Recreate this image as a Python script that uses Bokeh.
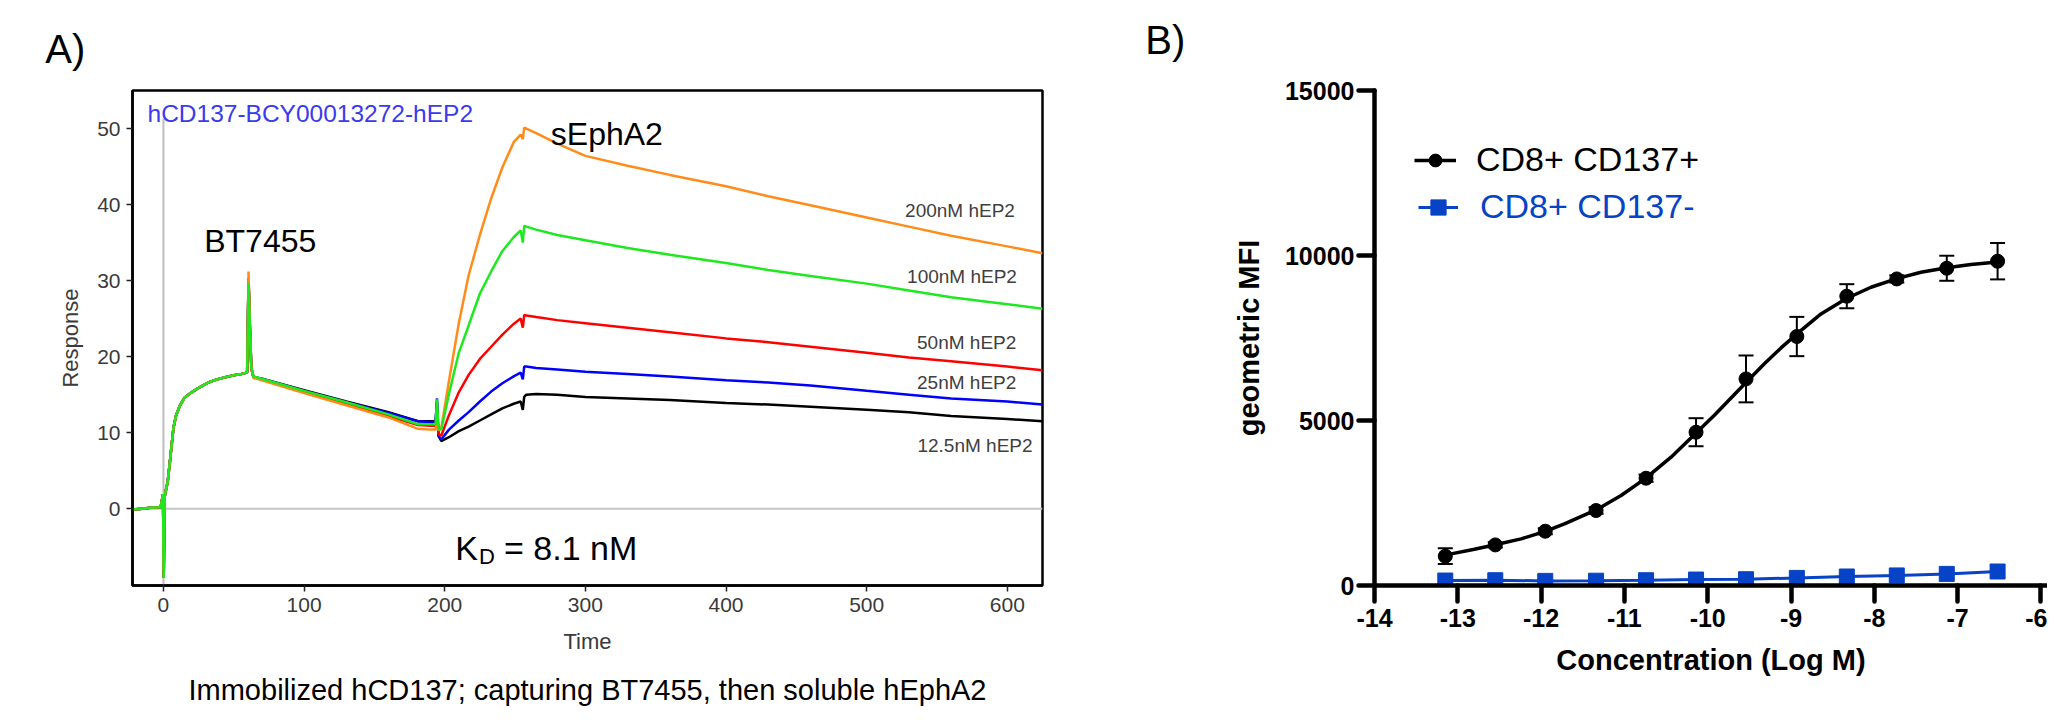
from bokeh.plotting import figure
from bokeh.models import (Range1d, FixedTicker, Label, Legend, LegendItem, LinearAxis,
                          Whisker, TeeHead, ColumnDataSource, Span, Title)
from bokeh.layouts import row
from bokeh.embed import file_html
from bokeh.resources import INLINE

FONT = "Liberation Sans"

# ---------------- Panel A : sensorgram ----------------
T_CAPTURE = [-22, -15, -8, -2, -0.3, 0.2, 0.8, 1.8, 3, 4.7, 7.1, 9, 11.8, 15, 20, 26,
             32, 38, 44, 50, 55, 59.5]
R_CAPTURE = [-0.1, 0.0, 0.15, 0.2, 1.9, -9.1, 1.5, 2.5, 3.5, 6.4, 10.6, 12.3, 13.6, 14.6,
             15.3, 16.0, 16.6, 17.0, 17.3, 17.55, 17.7, 17.9]

T_TAIL = [60.5, 61.5, 62.5, 64, 70, 100, 130, 160, 181, 190, 193.5, 194.5, 195.5, 197.5,
          203, 210, 217, 225, 233, 241, 249, 254, 255.5, 256.5, 258, 265, 280, 300, 330,
          360, 400, 430, 460, 500, 530, 560, 600, 625]

R_200 = [31.2, 24.0, 18.5, 17.2, 16.9, 15.2, 13.6, 12.0, 10.5, 10.4, 10.4, 11.5, 10.3, 10.6,
         16.8, 24.4, 30.7, 36.0, 40.8, 44.9, 48.2, 49.2, 48.6, 50.1, 50.0, 49.4, 48.0, 46.4,
         45.1, 43.9, 42.4, 41.1, 39.9, 38.3, 37.1, 35.9, 34.5, 33.6]
R_100 = [29.7, 23.5, 18.6, 17.4, 17.1, 15.5, 14.0, 12.4, 11.1, 11.1, 11.1, 14.4, 10.5, 10.4,
         15.1, 20.5, 24.1, 28.3, 31.2, 33.9, 35.7, 36.6, 35.0, 37.2, 37.1, 36.7, 36.0, 35.3,
         34.3, 33.4, 32.3, 31.4, 30.6, 29.6, 28.7, 27.8, 26.9, 26.3]
R_50 = [30.3, 23.8, 18.5, 17.3, 17.0, 15.4, 13.8, 12.2, 11.0, 10.9, 10.9, 13.0, 9.8, 9.6,
        12.3, 15.3, 17.6, 19.7, 21.3, 22.9, 24.3, 25.0, 23.8, 25.5, 25.4, 25.2, 24.8, 24.4,
        23.8, 23.2, 22.4, 21.9, 21.3, 20.5, 19.9, 19.4, 18.7, 18.2]
R_25 = [30.3, 23.8, 18.5, 17.3, 17.1, 15.5, 14.0, 12.6, 11.5, 11.4, 11.4, 14.5, 9.6, 9.1,
        10.4, 11.6, 12.7, 14.1, 15.4, 16.5, 17.4, 17.9, 17.0, 18.7, 18.7, 18.5, 18.3, 18.0,
        17.7, 17.4, 16.9, 16.6, 16.2, 15.5, 15.0, 14.5, 14.1, 13.7]
R_12 = [30.0, 23.5, 18.4, 17.3, 17.1, 15.6, 14.1, 12.7, 11.5, 11.5, 11.5, 14.0, 9.6, 8.9,
        9.4, 10.2, 10.8, 11.6, 12.4, 13.2, 13.8, 14.1, 13.0, 14.7, 15.0, 15.1, 15.0, 14.7,
        14.5, 14.3, 13.9, 13.7, 13.4, 13.0, 12.7, 12.2, 11.8, 11.5]

CURVE_LABELS = ["12.5nM hEP2", "25nM hEP2", "50nM hEP2", "100nM hEP2", "200nM hEP2"]
CURVE_COLORS = ["#000000", "#0000ff", "#ff0000", "#ff8c1a", "#1ee81e"]
CURVE_VALUES = [R_12, R_25, R_50, R_200, R_100]
INJECT_T = [0]
INJECT_TOP = [51.3]
CAPTION = "Immobilized hCD137; capturing BT7455, then soluble hEphA2"

A_X = (-22, 625)
A_Y = (-10.1, 55)

pA = figure(width=1122, height=712, x_range=Range1d(*A_X), y_range=Range1d(*A_Y),
            output_backend="svg", toolbar_location=None, title=None,
            min_border_left=132, min_border_right=80, min_border_top=77,
            min_border_bottom=125, outline_line_color="black", outline_line_width=2.5,
            background_fill_color="white", border_fill_color="white")
pA.grid.visible = False
pA.xaxis.ticker = FixedTicker(ticks=[0, 100, 200, 300, 400, 500, 600])
pA.yaxis.ticker = FixedTicker(ticks=[0, 10, 20, 30, 40, 50])
for ax in (pA.xaxis[0], pA.yaxis[0]):
    ax.minor_tick_line_color = None
    ax.major_tick_out = 6
    ax.major_tick_in = 0
    ax.major_tick_line_color = "#222222"
    ax.major_tick_line_width = 1.5
    ax.axis_line_color = "black"
    ax.axis_line_width = 2.5
    ax.major_label_text_font = FONT
    ax.major_label_text_font_size = "21px"
    ax.major_label_text_color = "#3a3a3a"
    ax.axis_label_text_font = FONT
    ax.axis_label_text_font_size = "22px"
    ax.axis_label_text_font_style = "normal"
    ax.axis_label_text_color = "#3a3a3a"
pA.xaxis.axis_label = "Time"
pA.yaxis.axis_label = "Response"
pA.xaxis.major_label_standoff = 6
pA.yaxis.major_label_standoff = 6
pA.xaxis.axis_label_standoff = 14
pA.yaxis.axis_label_standoff = 11

# caption below the Time axis
cap_axis = LinearAxis(ticker=FixedTicker(ticks=[]), axis_label=CAPTION,
                      axis_line_color=None, major_tick_out=0, major_tick_in=0,
                      minor_tick_out=0, minor_tick_in=0, major_label_standoff=0,
                      axis_label_standoff=17, axis_label_text_font=FONT,
                      axis_label_text_font_size="29px", axis_label_text_font_style="normal",
                      axis_label_text_color="black")
pA.add_layout(cap_axis, "below")

# spacer (closest to the frame) then the panel letter
pA.add_layout(Title(text=" ", standoff=4.7, text_font=FONT, text_font_size="6px"), "above")
pA.add_layout(Title(text="A)", align="left", offset=-87.2, vertical_align="top",
                    standoff=10, text_font=FONT, text_font_size="40px",
                    text_font_style="normal", text_color="black"), "above")

pA.add_layout(Span(location=0, dimension="width", line_color="#c4c4c4", line_width=2,
                   level="underlay"))
pA.segment(x0=INJECT_T, y0=[A_Y[0]], x1=INJECT_T, y1=INJECT_TOP, line_color="#bdbdbd",
           line_width=2)

for vals, col in zip(CURVE_VALUES, CURVE_COLORS):
    pA.line(T_CAPTURE + T_TAIL, R_CAPTURE + vals, line_color=col, line_width=2.5)


def a_xy(px, py):
    # page pixel -> panel A data coordinates (frame 140..1050 x 85..595)
    x = A_X[0] + (px - 140) * (A_X[1] - A_X[0]) / 910.0
    y = A_Y[1] - (py - 85) * (A_Y[1] - A_Y[0]) / 510.0
    return x, y


def add_text(px, py, text, size, color="black", align="left", baseline="alphabetic"):
    x, y = a_xy(px, py)
    pA.add_layout(Label(x=x, y=y, text=text, text_font=FONT, text_font_size=size,
                        text_color=color, text_align=align, text_baseline=baseline,
                        text_font_style="normal"))


add_text(155, 108.3, "hCD137-BCY00013272-hEP2", "24.5px", color="#3a3aee")
add_text(211.7, 240, "BT7455", "32px")
add_text(558.3, 130, "sEphA2", "32px")
add_text(462.7, 556.7, "K", "34px")
add_text(486.5, 565, "D", "22px")
add_text(511.5, 556.7, "= 8.1 nM", "34px")
label_pos = [(982.5, 451), (974.2, 386), (974.2, 345), (969.5, 276.7), (967.5, 208.3)]
for (px, py), txt in zip(label_pos, CURVE_LABELS):
    add_text(px, py, txt, "19px", color="#404040", align="center", baseline="middle")

# ---------------- Panel B : dose response ----------------
LOG_CONC = [-13.15, -12.55, -11.95, -11.34, -10.74, -10.14, -9.54, -8.93, -8.33, -7.73,
            -7.13, -6.52]
MFI_POS = [888, 1230, 1645, 2272, 3251, 4645, 6260, 7545, 8766, 9290, 9614, 9826]
SD_POS = [240, 80, 90, 100, 110, 425, 710, 595, 365, 110, 380, 550]
MFI_NEG = [150, 160, 140, 145, 160, 180, 190, 230, 273, 305, 352, 424]
FIT_X = [-13.15, -13.08, -12.8, -12.55, -12.24, -11.95, -11.72, -11.34, -11.04, -10.75,
         -10.44, -10.14, -9.92, -9.72, -9.54, -9.32, -9.12, -8.94, -8.64, -8.34, -8.04,
         -7.73, -7.44, -7.13, -6.84, -6.52]
FIT_Y = [905, 958, 1100, 1235, 1412, 1640, 1867, 2290, 2727, 3240, 3888, 4620, 5160, 5680,
         6150, 6720, 7200, 7600, 8230, 8690, 9038, 9300, 9493, 9630, 9726, 9800]
X_TICKS = [-14, -13, -12, -11, -10, -9, -8, -7, -6]
BLUE = "#0643c6"

B_X = (-14, -14 + 673 / 83.3)
B_Y = (0, 15000)

pB = figure(width=925, height=712, x_range=Range1d(*B_X), y_range=Range1d(*B_Y),
            output_backend="svg", toolbar_location=None, title=None,
            min_border_left=252, min_border_right=0, min_border_top=90,
            min_border_bottom=127, outline_line_color=None,
            background_fill_color="white", border_fill_color="white")
pB.grid.visible = False
pB.xaxis.ticker = FixedTicker(ticks=X_TICKS)
pB.xaxis.major_label_overrides = {t: "-%d" % abs(t) for t in X_TICKS}
pB.yaxis.ticker = FixedTicker(ticks=[0, 5000, 10000, 15000])
for ax in (pB.xaxis[0], pB.yaxis[0]):
    ax.minor_tick_line_color = None
    ax.major_tick_out = 16
    ax.major_tick_in = 0
    ax.major_tick_line_color = "black"
    ax.major_tick_line_width = 4.5
    ax.major_tick_line_cap = "round"
    ax.axis_line_color = "black"
    ax.axis_line_width = 4.5
    ax.axis_line_cap = "round"
    ax.major_label_text_font = FONT
    ax.major_label_text_font_size = "25px"
    ax.major_label_text_font_style = "bold"
    ax.major_label_text_color = "black"
    ax.axis_label_text_font = FONT
    ax.axis_label_text_font_size = "29px"
    ax.axis_label_text_font_style = "bold"
    ax.axis_label_text_color = "black"
pB.xaxis.axis_label = "Concentration (Log M)"
pB.yaxis.axis_label = "geometric MFI"
pB.xaxis.major_label_standoff = 7
pB.yaxis.major_label_standoff = 4
pB.xaxis.axis_label_standoff = 14
pB.yaxis.axis_label_standoff = 17

# spacer title (closest to frame) then the panel letter above it
pB.add_layout(Title(text=" ", standoff=6, text_font=FONT, text_font_size="12px"),
              "above")
pB.add_layout(Title(text="B)", align="left", offset=-229.3, vertical_align="top",
                    standoff=10, text_font=FONT, text_font_size="40px",
                    text_font_style="normal", text_color="black"), "above")

neg_line = pB.line(LOG_CONC, MFI_NEG, line_color=BLUE, line_width=3)
neg_pts = pB.scatter(LOG_CONC, MFI_NEG, marker="square", size=15, color=BLUE)
pos_line = pB.line(FIT_X, FIT_Y, line_color="black", line_width=3.5)
pos_pts = pB.scatter(LOG_CONC, MFI_POS, marker="circle", size=14, color="black")

err_src = ColumnDataSource(dict(x=LOG_CONC,
                                upper=[m + s for m, s in zip(MFI_POS, SD_POS)],
                                lower=[m - s for m, s in zip(MFI_POS, SD_POS)]))
pB.add_layout(Whisker(base="x", upper="upper", lower="lower", source=err_src,
                      line_color="black", line_width=2,
                      upper_head=TeeHead(size=15, line_width=2, line_color="black"),
                      lower_head=TeeHead(size=15, line_width=2, line_color="black")))

leg1 = Legend(items=[LegendItem(label="CD8+ CD137+", renderers=[pos_line, pos_pts])],
              location=(40, 406), glyph_width=42, glyph_height=32, label_standoff=20,
              label_text_font=FONT, label_text_font_size="34px",
              label_text_color="black", padding=0, margin=0, border_line_color=None,
              background_fill_alpha=0)
leg2 = Legend(items=[LegendItem(label="CD8+ CD137-", renderers=[neg_line, neg_pts])],
              location=(44, 359), glyph_width=40, glyph_height=38, label_standoff=22,
              label_text_font=FONT, label_text_font_size="34px",
              label_text_color=BLUE, padding=0, margin=0, border_line_color=None,
              background_fill_alpha=0)
pB.add_layout(leg1)
pB.add_layout(leg2)

layout = row(pA, pB)
open("out.html", "w").write(file_html(layout, INLINE))
